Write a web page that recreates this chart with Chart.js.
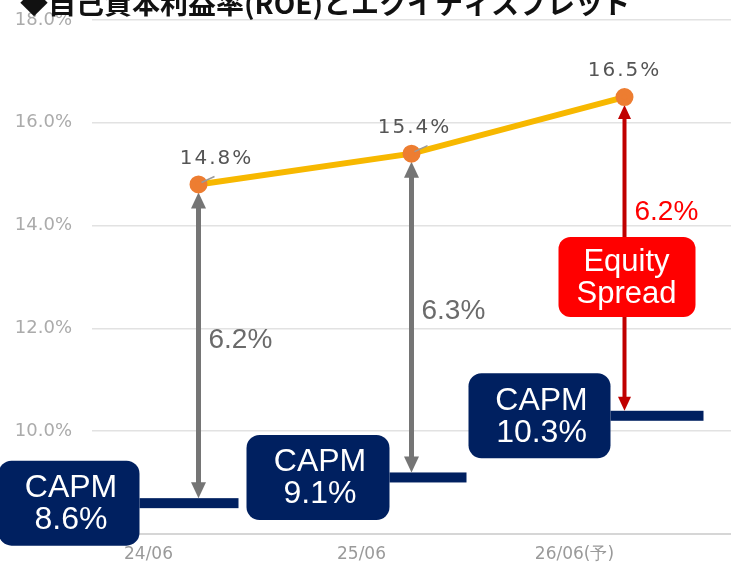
<!DOCTYPE html>
<html>
<head>
<meta charset="utf-8">
<script src="https://cdn.jsdelivr.net/npm/chart.js@4.4.1/dist/chart.umd.min.js"></script>
<style>
  html, body { margin: 0; padding: 0; background: #fff; }
  #wrap { width: 731px; height: 569px; position: relative; }
</style>
</head>
<body>
<div id="wrap"><canvas id="grafica"></canvas></div>
<script>
const titulo = "◆自己資本利益率(ROE)とエクイティスプレッド";
const periodos = ["24/06", "25/06", "26/06(予)"];
const roe = [14.8, 15.4, 16.5];
const capm = [8.6, 9.1, 10.3];
const spread = [6.2, 6.3, 6.2];
const ticksY = [8, 10, 12, 14, 16, 18];

const NAVY = "#002060";
const GRIS = "#757575";
const ROJO = "#C00000";

// box / segment layout per period (pixels relative to the category centre)
const cajaCapm = [
  { izq: -200, der: -59, fin: 40 },
  { izq: -165, der: -22, fin: 55 },
  { izq: -156, der: -14, fin: 79 }
];

function flecha(ctx, x, yTop, yBot, color, ancho, cabezaAncho, cabezaLargo) {
  ctx.save();
  ctx.fillStyle = color;
  ctx.fillRect(x - ancho / 2, yTop + cabezaLargo - 1, ancho, yBot - yTop - 2 * cabezaLargo + 2);
  ctx.beginPath();
  ctx.moveTo(x, yTop);
  ctx.lineTo(x - cabezaAncho / 2, yTop + cabezaLargo);
  ctx.lineTo(x + cabezaAncho / 2, yTop + cabezaLargo);
  ctx.closePath();
  ctx.fill();
  ctx.beginPath();
  ctx.moveTo(x, yBot);
  ctx.lineTo(x - cabezaAncho / 2, yBot - cabezaLargo);
  ctx.lineTo(x + cabezaAncho / 2, yBot - cabezaLargo);
  ctx.closePath();
  ctx.fill();
  ctx.restore();
}

function cajaRedonda(ctx, x, y, w, h, r, color) {
  ctx.save();
  ctx.fillStyle = color;
  ctx.beginPath();
  ctx.roundRect(x, y, w, h, r);
  ctx.fill();
  ctx.restore();
}

const anotaciones = {
  id: "anotaciones",
  beforeDatasetsDraw(chart) {
    const ctx = chart.ctx;
    const x = chart.scales.x, y = chart.scales.y;
    capm.forEach((v, i) => {
      const cx = x.getPixelForValue(i);
      const yc = y.getPixelForValue(v);
      const yr = y.getPixelForValue(roe[i]);
      // CAPM segment
      ctx.save();
      ctx.fillStyle = NAVY;
      ctx.fillRect(cx + cajaCapm[i].der, yc - 5, cajaCapm[i].fin - cajaCapm[i].der, 10);
      ctx.restore();
      // arrow between CAPM and ROE
      if (i < 2) {
        flecha(ctx, cx, yr + 8, yc - 5, GRIS, 5, 15, 16);
      } else {
        flecha(ctx, cx, yr + 8, yc - 5, ROJO, 4, 13, 14);
      }
    });
  },
  afterDatasetsDraw(chart) {
    const ctx = chart.ctx;
    const x = chart.scales.x, y = chart.scales.y;
    const dxEtiqueta = [18, 3, 0];
    ctx.save();
    roe.forEach((v, i) => {
      const px = x.getPixelForValue(i);
      const py = y.getPixelForValue(v);
      if (i < 2) {
        ctx.strokeStyle = "#9a9a9a";
        ctx.lineWidth = 1.5;
        ctx.beginPath();
        ctx.moveTo(px + 3, py - 2);
        ctx.lineTo(px + 16, py - 8);
        ctx.stroke();
      }
      ctx.fillStyle = "#555";
      ctx.font = "20px 'DejaVu Sans'";
      ctx.letterSpacing = "2px";
      ctx.textAlign = "center";
      ctx.textBaseline = "middle";
      ctx.fillText(v.toFixed(1) + "%", px + dxEtiqueta[i], py - 26);
    });
    ctx.restore();
  },
  afterDraw(chart) {
    const ctx = chart.ctx;
    const x = chart.scales.x, y = chart.scales.y;
    // title (cut at top edge)
    ctx.save();
    ctx.fillStyle = "#111";
    ctx.font = "bold 28px 'Noto Sans CJK JP'";
    ctx.textAlign = "left";
    ctx.textBaseline = "alphabetic";
    ctx.fillText(titulo, 20, 14);
    ctx.restore();

    capm.forEach((v, i) => {
      const cx = x.getPixelForValue(i);
      const yc = y.getPixelForValue(v);
      const yr = y.getPixelForValue(roe[i]);
      const bx = cx + cajaCapm[i].izq;
      const bw = cajaCapm[i].der - cajaCapm[i].izq;
      const bh = 85;
      cajaRedonda(ctx, bx, yc - bh / 2, bw, bh, 13, NAVY);
      ctx.save();
      ctx.fillStyle = "#fff";
      ctx.font = "32px 'Liberation Sans'";
      ctx.textAlign = "center";
      ctx.textBaseline = "middle";
      ctx.fillText("CAPM", bx + bw / 2 + 2, yc - 15);
      ctx.fillText(v.toFixed(1) + "%", bx + bw / 2 + 2, yc + 17);
      ctx.restore();

      // spread label
      ctx.save();
      ctx.font = "28px 'Liberation Sans'";
      ctx.textAlign = "left";
      ctx.textBaseline = "middle";
      if (i < 2) {
        ctx.fillStyle = "#6b6b6b";
        ctx.fillText(spread[i].toFixed(1) + "%", cx + 10, (yr + yc) / 2 - 4);
      } else {
        ctx.fillStyle = "#FF0000";
        ctx.fillText(spread[i].toFixed(1) + "%", cx + 10, yr + 115);
        cajaRedonda(ctx, cx - 66, yr + 140, 137, 80, 12, "#FF0000");
        ctx.fillStyle = "#fff";
        ctx.font = "31px 'Liberation Sans'";
        ctx.textAlign = "center";
        ctx.fillText("Equity", cx + 2, yr + 165);
        ctx.fillText("Spread", cx + 2, yr + 197);
      }
      ctx.restore();
    });
  }
};

const ctx = document.getElementById("grafica").getContext("2d");
new Chart(ctx, {
  type: "line",
  data: {
    labels: periodos,
    datasets: [{
      label: "ROE",
      data: roe,
      borderColor: "#F7B800",
      borderWidth: 6,
      pointBackgroundColor: "#ED7D31",
      pointBorderColor: "#ED7D31",
      pointRadius: 6,
      tension: 0,
      fill: false
    }]
  },
  options: {
    responsive: true,
    maintainAspectRatio: false,
    animation: false,
    layout: { autoPadding: false, padding: { top: 20, right: 0, bottom: 0, left: 0 } },
    plugins: {
      legend: { display: false },
      tooltip: { enabled: false }
    },
    scales: {
      x: {
        offset: true,
        grid: { display: false, drawTicks: false },
        border: { display: true, color: "#d6d6d6", width: 2 },
        ticks: {
          color: "#9a9a9a",
          font: { size: 17, family: "'DejaVu Sans'" },
          padding: 10,
          labelOffset: -50
        },
        afterFit: (s) => {
          s.height = 35;
          s.paddingLeft = 0;
          s.paddingRight = 0;
        }
      },
      y: {
        min: 8,
        max: 18,
        afterBuildTicks: (s) => { s.ticks = ticksY.map(v => ({ value: v })); },
        grid: { color: "#e2e2e2", lineWidth: 1.5, drawTicks: false },
        border: { display: false },
        ticks: {
          color: "#ababab",
          font: { size: 18, family: "'DejaVu Sans'" },
          padding: 20,
          callback: (v) => Number(v).toFixed(1) + "%"
        },
        afterFit: (s) => {
          s.width = 92;
          s.paddingTop = 0;
          s.paddingBottom = 0;
        }
      }
    }
  },
  plugins: [anotaciones]
});
</script>
</body>
</html>
